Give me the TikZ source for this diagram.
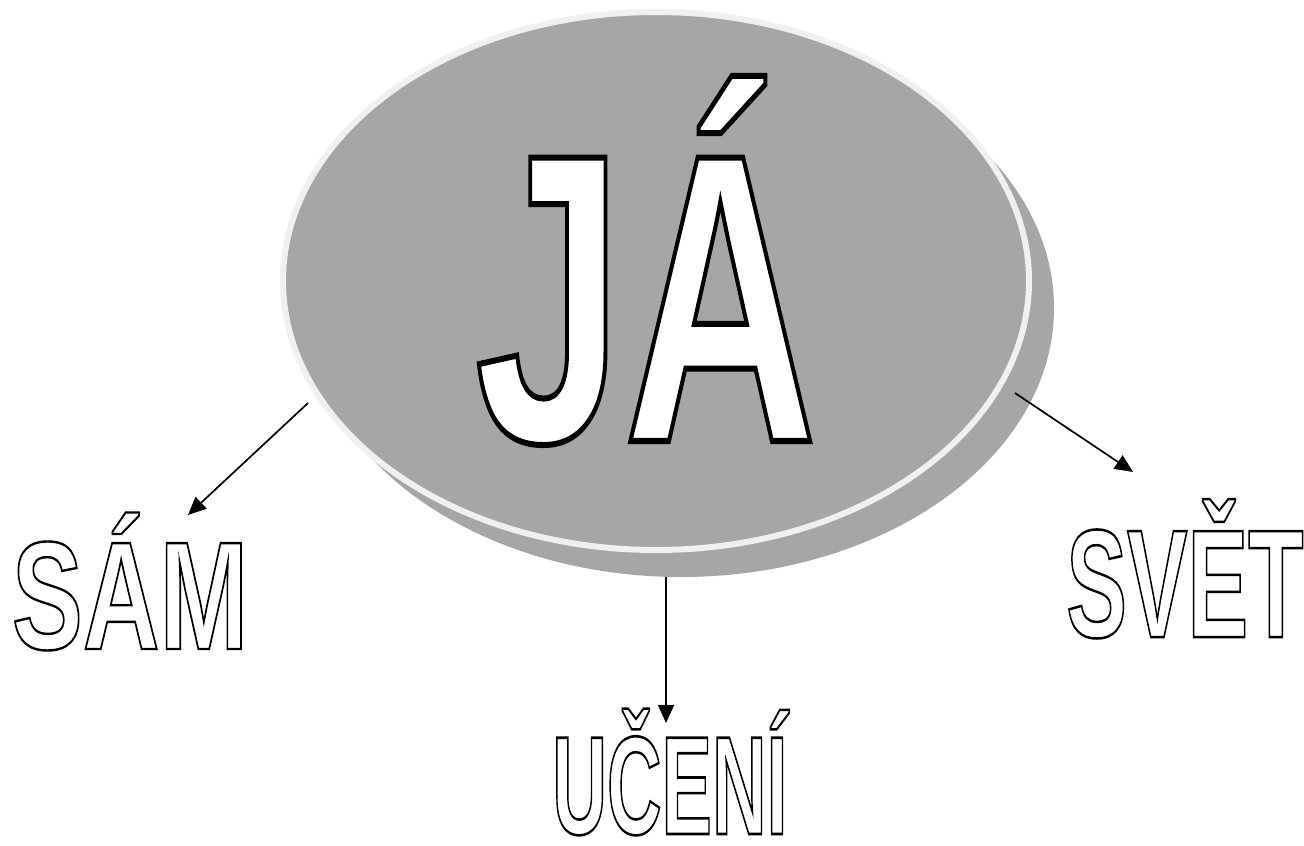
\documentclass[tikz,border=0pt]{standalone}
\usepackage{fontspec}
\setmainfont{Liberation Sans}
\usetikzlibrary{shapes.geometric,arrows.meta}
\definecolor{discgray}{RGB}{166,166,166}
\definecolor{rimgray}{RGB}{240,240,240}
\newcommand{\outl}[2]{\special{pdf:bcolor [1 1 1] [0 0 0]}\special{pdf:literal direct 2 Tr #1 w}#2\special{pdf:literal direct 0 Tr}\special{pdf:ecolor}}
\begin{document}
\begin{tikzpicture}[x=1pt,y=-1pt,
  disc/.style={ellipse,fill=discgray,minimum width=746pt,minimum height=538pt,inner sep=0pt},
  word/.style={inner sep=0pt,anchor=base,text depth=0pt},
  link/.style={line width=1.7pt,-{Triangle[length=18pt,width=16pt]}}]
\useasboundingbox (0,0) rectangle (1304,846);
\fill[white] (0,0) rectangle (1304,846);
\node[disc] (shadow) at (681,308) {};
\node[disc,draw=rimgray,line width=6pt] (main) at (656,281) {};
\node[word] (ja) at (646,441) {\fontsize{412}{412}\selectfont\bfseries\scalebox{0.65}[1]{\outl{6}{JÁ}}};
\node[word] (sam) at (130,649) {\fontsize{154}{154}\selectfont\bfseries\scalebox{0.69}[1]{\outl{2.4}{SÁM}}};
\node[word] (uceni) at (670,834) {\fontsize{140}{140}\selectfont\bfseries\scalebox{0.54}[1]{\outl{2.6}{UČENÍ}}};
\node[word] (svet) at (1185,637) {\fontsize{154}{154}\selectfont\bfseries\scalebox{0.59}[1]{\outl{2.5}{SVĚT}}};
\coordinate (a1s) at (308,403);
\coordinate (a1e) at (188,515);
\coordinate (a2s) at (666,577);
\coordinate (a2e) at (666,723);
\coordinate (a3s) at (1015,393);
\coordinate (a3e) at (1133,472);
\draw[link] (a1s) -- (a1e);
\draw[link] (a2s) -- (a2e);
\draw[link] (a3s) -- (a3e);
\end{tikzpicture}
\end{document}
